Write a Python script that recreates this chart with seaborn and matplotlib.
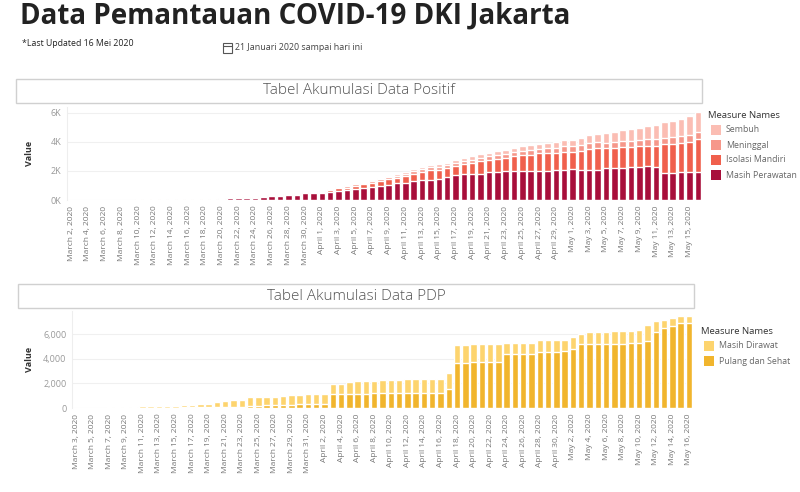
import matplotlib
matplotlib.use("Agg")
import matplotlib.pyplot as plt
from matplotlib.patches import Rectangle
import seaborn as sns
import numpy as np
import pandas as pd

W, H = 800, 492

# ---- Data Positif: one bar per day, March 2 .. May 16 2020
pos_dates = pd.date_range("2020-03-02", "2020-05-16")
masih_perawatan = [0, 0, 0, 0, 0, 0, 0, 0,
                   5, 5, 5, 5, 5, 8, 10, 15,
                   20, 30, 60, 110, 120, 150, 170, 240, 260, 290,
                   320, 340, 450, 450, 480, 540, 640, 660, 740, 800,
                   870, 930, 1030, 1140, 1140, 1300, 1370, 1370, 1440, 1550,
                   1700, 1780, 1820, 1820, 1900, 1940, 1990, 2010, 1990, 1990,
                   1990, 2010, 2050, 2050, 2140, 2090, 2090, 2090, 2180, 2200,
                   2200, 2300, 2300, 2330, 2270, 1830, 1830, 1900, 1950, 1950]
isolasi_mandiri = [0, 0, 0, 0, 0, 0, 0, 0,
                   55, 60, 60, 60, 62, 62, 64, 64,
                   62, 60, 34, 39, 32, 44, 36, 52, 60, 52,
                   67, 69, 98, 101, 100, 135, 191, 200, 251, 293,
                   334, 383, 384, 384, 514, 492, 574, 676, 653, 619,
                   620, 698, 711, 839, 820, 899, 909, 1002, 1094, 1138,
                   1213, 1230, 1204, 1272, 1187, 1310, 1425, 1468, 1365, 1348,
                   1423, 1366, 1389, 1404, 1477, 2014, 2016, 1998, 2020, 2252]
meninggal = [0, 0, 0, 0, 0, 0, 0, 0,
             0, 0, 0, 0, 1, 2, 3, 4,
             5, 7, 9, 12, 18, 23, 29, 31, 40, 46,
             48, 52, 60, 63, 72, 74, 84, 90, 95, 99,
             103, 122, 142, 154, 169, 181, 194, 204, 207, 216,
             230, 238, 251, 261, 275, 281, 286, 298, 300, 309,
             327, 338, 353, 368, 381, 390, 395, 402, 405, 412,
             417, 424, 431, 436, 445, 456, 464, 472, 480, 489]
sembuh = [0, 0, 0, 0, 0, 0, 0, 0,
          0, 0, 0, 0, 0, 0, 1, 3,
          5, 5, 7, 9, 10, 13, 15, 17, 20, 22,
          25, 29, 32, 36, 38, 41, 45, 50, 54, 58,
          63, 72, 84, 102, 117, 127, 142, 150, 160, 175,
          190, 204, 218, 230, 245, 260, 285, 300, 316, 333,
          350, 372, 393, 420, 452, 500, 560, 610, 660, 700,
          750, 800, 860, 900, 948, 1040, 1120, 1220, 1300, 1389]

# ---- Data PDP: one bar per day, March 3 .. May 16 2020
pdp_dates = pd.date_range("2020-03-03", "2020-05-16")
pulang_sehat = [0, 0, 0, 0, 0, 5, 10, 15, 20, 25,
                30, 35, 40, 45, 50, 60, 70, 80, 90, 100,
                110, 150, 200, 220, 240, 260, 280, 300, 320, 340,
                360, 1120, 1130, 1150, 1170, 1180, 1190, 1190, 1200, 1200,
                1200, 1210, 1210, 1210, 1220, 1520, 3700, 3700, 3780, 3780,
                3780, 3780, 4410, 4410, 4410, 4410, 4540, 4600, 4600, 4650,
                4790, 5220, 5220, 5220, 5220, 5220, 5220, 5280, 5330, 5470,
                6230, 6500, 6640, 6910, 6910]
masih_dirawat = [0, 0, 0, 0, 60, 70, 90, 100, 110, 120,
                 130, 145, 160, 185, 210, 240, 280, 370, 470, 520,
                 570, 710, 670, 650, 640, 740, 740, 760, 800, 810,
                 820, 840, 860, 930, 1010, 1040, 1040, 1090, 1100, 1110,
                 1130, 1140, 1150, 1170, 1180, 1360, 1440, 1440, 1440, 1440,
                 1420, 1420, 870, 870, 870, 920, 960, 950, 950, 900,
                 980, 820, 960, 1010, 1010, 1070, 1070, 1030, 1040, 1250,
                 820, 630, 680, 550, 600]

pos_colors = {"Sembuh": "#fbbdb3", "Meninggal": "#f6978a",
              "Isolasi Mandiri": "#f0604d", "Masih Perawatan": "#a80f3b"}
pdp_colors = {"Masih Dirawat": "#fdd46e", "Pulang dan Sehat": "#f1b52d"}


def fmt(d):
    return f"{d:%B} {d.day}, {d.year}"


def fx(x):
    return x / W


def fy(y):
    return 1 - y / H


sns.set_style("white")
plt.rcParams["font.family"] = ["Open Sans", "DejaVu Sans"]

fig = plt.figure(figsize=(8, 4.92), dpi=100)

# header texts
fig.text(fx(20), fy(16), "Data Pemantauan COVID-19 DKI Jakarta", fontsize=20,
         fontweight="bold", color="#222222", va="center", ha="left")
fig.text(fx(22), fy(44), "*Last Updated 16 Mei 2020", fontsize=6.3,
         color="#222222", va="center", ha="left")
fig.text(fx(235), fy(48), "21 Januari 2020 sampai hari ini", fontsize=6.4,
         color="#444444", va="center", ha="left")
# calendar icon
fig.add_artist(Rectangle((fx(223), fy(53)), 9 / W, 10 / H, transform=fig.transFigure,
                         fill=False, edgecolor="#555555", lw=0.8))
fig.add_artist(plt.Line2D([fx(223), fx(232)], [fy(46), fy(46)], transform=fig.transFigure,
                          color="#555555", lw=0.8))


def panel_header(x0, x1, y0, y1, title):
    fig.add_artist(Rectangle((fx(x0), fy(y1)), (x1 - x0) / W, (y1 - y0) / H,
                             transform=fig.transFigure, fill=False,
                             edgecolor="#d0d0d0", lw=1))
    fig.text(fx((x0 + x1) / 2), fy((y0 + y1) / 2), title, fontsize=11,
             fontweight="light", color="#555555", ha="center", va="center")


def legend_block(x, y, title, items):
    fig.text(fx(x), fy(y), title, fontsize=6.8, color="#333333", va="center", ha="left")
    for i, (name, color) in enumerate(items):
        yy = y + 15 * (i + 1)
        fig.add_artist(Rectangle((fx(x + 3), fy(yy + 5)), 10 / W, 10 / H,
                                 transform=fig.transFigure, color=color, lw=0))
        fig.text(fx(x + 18), fy(yy), name, fontsize=6.3, color="#666666",
                 va="center", ha="left")


def style_axes(ax, labels, yticks, ylabels, ymax):
    ax.set_ylim(0, ymax)
    ax.set_yticks(yticks)
    ax.set_yticklabels(ylabels, fontsize=6.5, color="#999999")
    ax.set_xticks(range(0, len(labels), 2))
    ax.set_xticklabels(labels[::2], rotation=90, fontsize=6, color="#777777")
    ax.tick_params(length=0, pad=4)
    ax.set_xlabel("")
    ax.set_ylabel("Value", fontsize=6.5, fontweight="bold", color="#333333")
    ax.yaxis.grid(True, color="#f0f0f0", lw=0.8)
    ax.set_axisbelow(True)
    for s in ["top", "right", "bottom"]:
        ax.spines[s].set_visible(False)
    ax.spines["left"].set_color("#eeeeee")
    ax.spines["left"].set_linewidth(0.8)


# ---- top chart
pos_labels = [fmt(d) for d in pos_dates]
pos_df = pd.DataFrame({"date": pos_labels,
                       "Masih Perawatan": masih_perawatan,
                       "Isolasi Mandiri": isolasi_mandiri,
                       "Meninggal": meninggal,
                       "Sembuh": sembuh})
pos_layers = ["Masih Perawatan", "Isolasi Mandiri", "Meninggal", "Sembuh"]
pos_stack = pos_df[pos_layers].cumsum(axis=1)

panel_header(16, 702, 79, 103, "Tabel Akumulasi Data Positif")
ax1 = fig.add_axes([fx(67), fy(200), 635 / W, 93 / H])
for name in reversed(pos_layers):
    sns.barplot(x=pos_df["date"], y=pos_stack[name], color=pos_colors[name],
                saturation=1, width=0.78, errorbar=None, ax=ax1)
style_axes(ax1, pos_labels, [0, 2000, 4000, 6000], ["0K", "2K", "4K", "6K"], 6400)
ax1.yaxis.set_label_coords(-0.052, 0.5)
legend_block(708, 115, "Measure Names",
             [(n, pos_colors[n]) for n in ["Sembuh", "Meninggal", "Isolasi Mandiri", "Masih Perawatan"]])

# ---- bottom chart
pdp_labels = [fmt(d) for d in pdp_dates]
pdp_df = pd.DataFrame({"date": pdp_labels,
                       "Pulang dan Sehat": pulang_sehat,
                       "Masih Dirawat": masih_dirawat})
pdp_layers = ["Pulang dan Sehat", "Masih Dirawat"]
pdp_stack = pdp_df[pdp_layers].cumsum(axis=1)

panel_header(18, 694, 284, 308, "Tabel Akumulasi Data PDP")
ax2 = fig.add_axes([fx(72), fy(408), 621 / W, 97 / H])
for name in reversed(pdp_layers):
    sns.barplot(x=pdp_df["date"], y=pdp_stack[name], color=pdp_colors[name],
                saturation=1, width=0.78, errorbar=None, ax=ax2)
style_axes(ax2, pdp_labels, [0, 2000, 4000, 6000], ["0", "2,000", "4,000", "6,000"], 7900)
ax2.yaxis.set_label_coords(-0.061, 0.5)
legend_block(701, 331, "Measure Names",
             [(n, pdp_colors[n]) for n in ["Masih Dirawat", "Pulang dan Sehat"]])

fig.savefig("out.png", dpi=100)
